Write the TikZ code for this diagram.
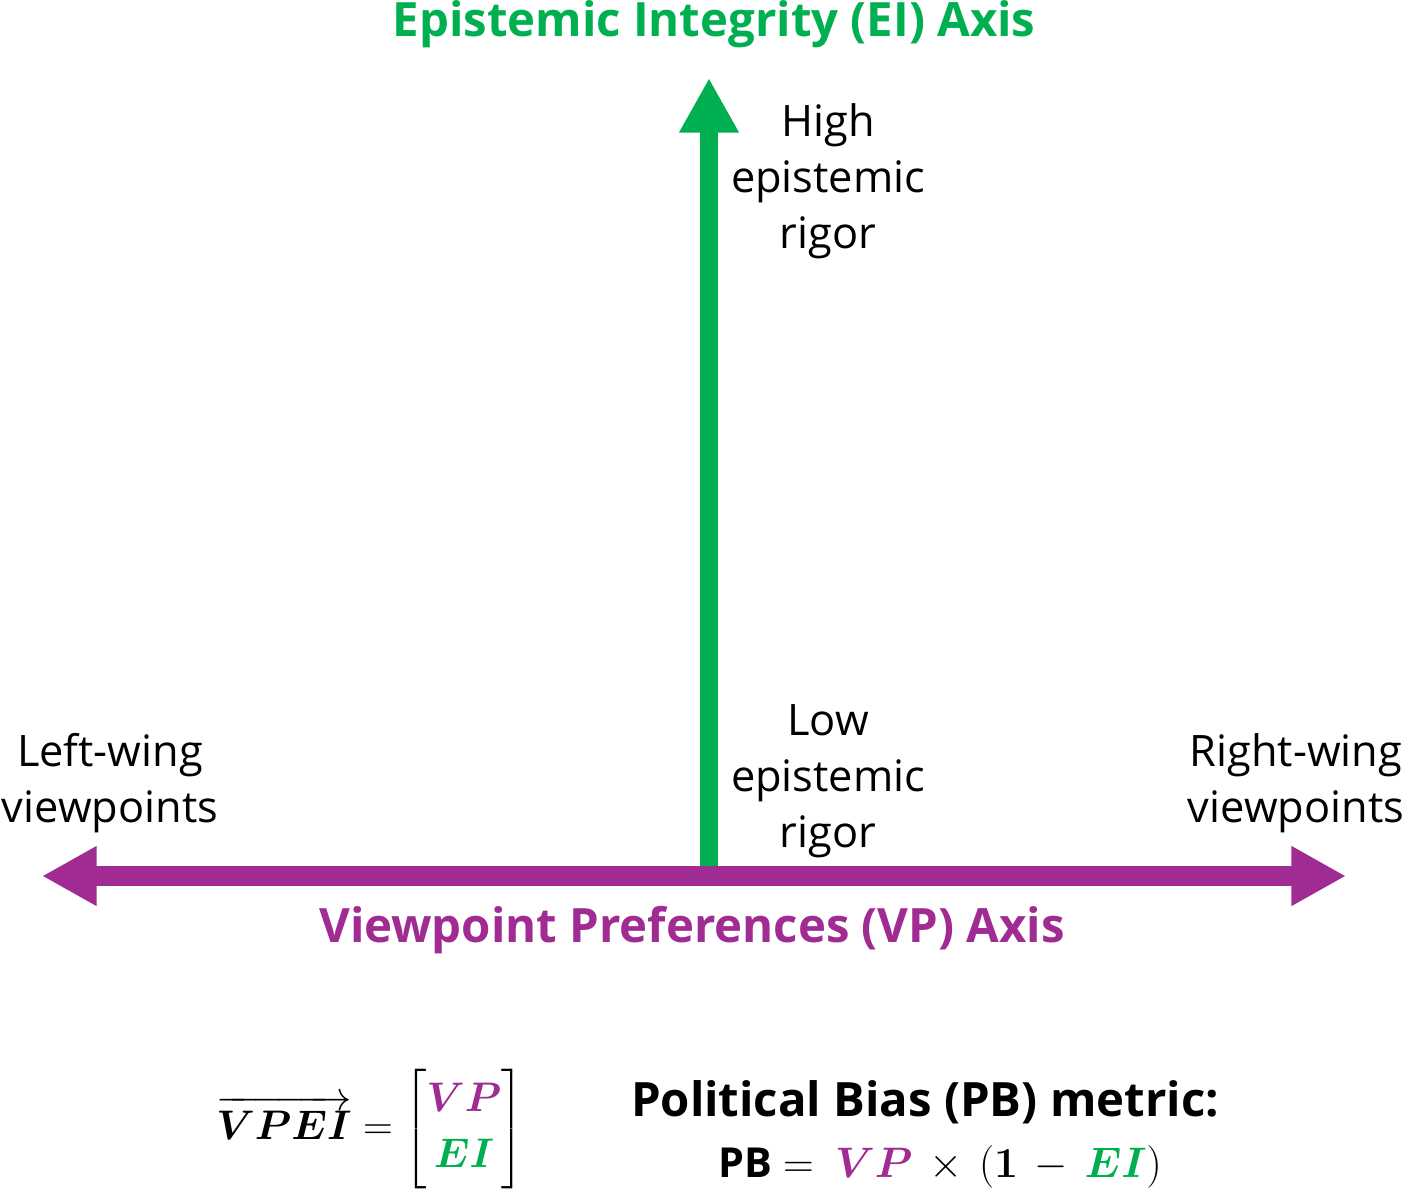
\RequirePackage{fix-cm}
\documentclass[tikz,border=0pt]{standalone}
\usepackage{amsmath}
\usepackage{bm}
\usepackage[no-math]{fontspec}
\setmainfont{Open Sans}
\usetikzlibrary{arrows.meta}
\definecolor{eigreen}{HTML}{00B050}
\definecolor{vppurple}{HTML}{A02B93}
\tikzset{
 lbl/.style={font=\fontsize{32.5}{42}\selectfont, align=center, text=black, inner sep=0pt},
 axtitle/.style={font=\fontsize{35.5}{40}\selectfont\bfseries, inner sep=0pt},
 mathlbl/.style={font=\fontsize{31}{36}\selectfont, inner sep=0pt},
 eiaxis/.style={draw=eigreen, line width=14pt, -{Triangle[length=41pt, width=42pt]}},
 vpaxis/.style={draw=vppurple, line width=15pt, {Triangle[length=41pt, width=42pt]}-{Triangle[length=41pt, width=42pt]}},
}
\begin{document}
\begin{tikzpicture}[x=0.75pt, y=-0.75pt]
\useasboundingbox (0,0) rectangle (1405,1193);
\coordinate (eibase) at (709,876);
\coordinate (eitop) at (709,78);
\coordinate (vpleft) at (42,876);
\coordinate (vpright) at (1346,876);
\draw[eiaxis] (eibase) -- (eitop);
\draw[vpaxis] (vpleft) -- (vpright);
\node[axtitle, text=eigreen] (eititle) at (714,24) {Epistemic Integrity (EI) Axis};
\node[lbl] (high) at (828,181) {High\\epistemic\\rigor};
\node[lbl] (low) at (828,781) {Low\\epistemic\\rigor};
\node[lbl] (left) at (110,783) {Left-wing\\viewpoints};
\node[lbl] (right) at (1296,783) {Right-wing\\viewpoints};
\node[axtitle, text=vppurple] (vptitle) at (692,930) {Viewpoint Preferences (VP) Axis};
\node[mathlbl] (vpei) at (370,1129) {\renewcommand{\arraystretch}{1.12}$\overrightarrow{\bm{VPEI}} = \begin{bmatrix}\color{vppurple}\bm{VP}\\[2pt] \color{eigreen}\bm{EI}\end{bmatrix}$};
\node[axtitle, text=black] (pbt) at (925,1102) {Political Bias (PB) metric:};
\node[mathlbl, font=\fontsize{32}{36}\selectfont, anchor=base] (pbeq) at (940,1177) {\thickmuskip=9mu plus 2mu\medmuskip=7mu plus 2mu{\fontsize{31}{34}\selectfont\bfseries PB} $= {\color{vppurple}\bm{VP}} \times (\bm{1} - {\color{eigreen}\bm{EI}})$};
\end{tikzpicture}
\end{document}
